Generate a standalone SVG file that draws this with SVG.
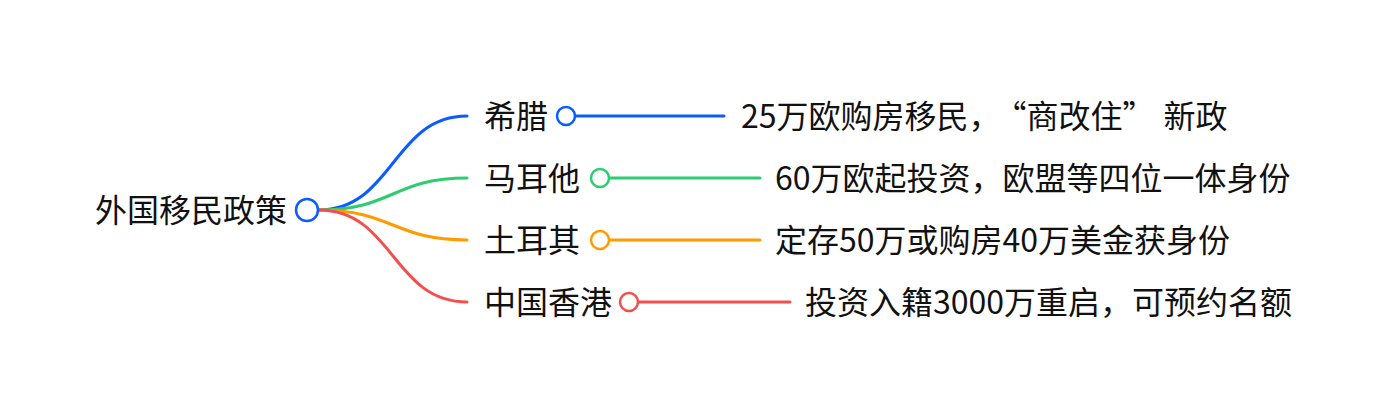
<svg xmlns="http://www.w3.org/2000/svg" width="1396" height="418" viewBox="0 0 1396 418">
<style>
text{font-family:"Noto Sans CJK SC","Noto Sans",sans-serif;font-size:32px;fill:#111;}
.c{fill:#fff;stroke-width:2.5;}
.l{fill:none;stroke-width:3;stroke-linecap:round;}
.b{stroke:#0a5cff;}.g{stroke:#2ecc71;}.o{stroke:#ff9a00;}.r{stroke:#f25050;}
</style>
<rect width="1396" height="418" fill="#fff"/>
<g id="connectors">
<path class="l b" d="M319 210 C393 210,393 116,467 116"/>
<path class="l g" d="M319 210 C393 210,393 178,467 178"/>
<path class="l o" d="M319 210 C393 210,393 240,467 240"/>
<path class="l r" d="M319 210 C393 210,393 302,467 302"/>
<path class="l b" d="M575 116 H724"/>
<path class="l g" d="M609 178 H760"/>
<path class="l o" d="M609 240 H760"/>
<path class="l r" d="M638 302 H790"/>
</g>
<g id="root">
<text x="95" y="222">外国移民政策</text>
<circle class="c b" cx="307" cy="210" r="11" stroke-width="3"/>
</g>
<g id="greece">
<text x="484" y="128">希腊</text>
<circle class="c b" cx="566" cy="116" r="9"/>
<text x="741" y="128">25万欧购房移民，<tspan dx="10">“商改住”</tspan><tspan dx="9">新政</tspan></text>
</g>
<g id="malta">
<text x="484" y="190">马耳他</text>
<circle class="c g" cx="600" cy="178" r="9"/>
<text x="775" y="190">60万欧起投资，欧盟等四位一体身份</text>
</g>
<g id="turkey">
<text x="484" y="252">土耳其</text>
<circle class="c o" cx="600" cy="240" r="9"/>
<text x="775" y="252">定存50万或购房40万美金获身份</text>
</g>
<g id="hongkong">
<text x="484" y="314">中国香港</text>
<circle class="c r" cx="629" cy="302" r="9"/>
<text x="805" y="314">投资入籍3000万重启，可预约名额</text>
</g>
</svg>
